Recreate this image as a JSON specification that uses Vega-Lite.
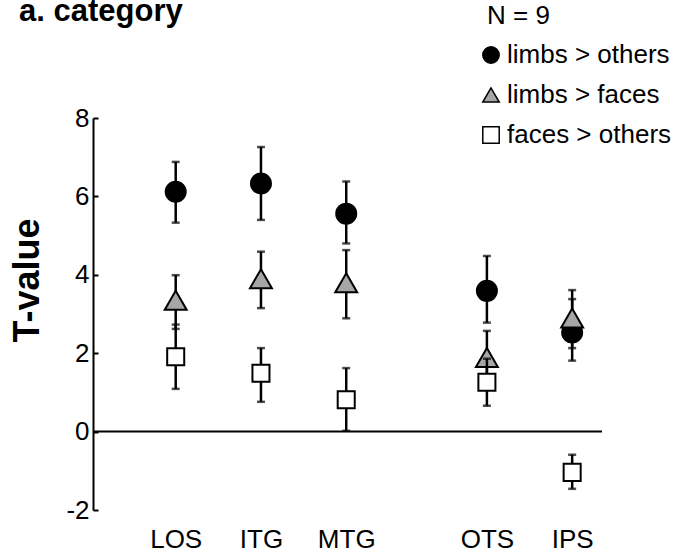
{
  "$schema": "https://vega.github.io/schema/vega-lite/v6.json",
  "width": 509,
  "height": 392,
  "autosize": "none",
  "padding": {"left": 93, "top": 118, "right": 79, "bottom": 49},
  "background": "white",
  "config": {
    "view": {"stroke": null},
    "font": "Liberation Sans",
    "axisY": {
      "domain": true, "domainColor": "black", "domainWidth": 2,
      "ticks": true, "tickColor": "black", "tickWidth": 2, "tickSize": -5,
      "grid": false, "labelFontSize": 26, "labelColor": "black", "labelFont": "Liberation Sans",
      "labelPadding": 9,
      "titleFontSize": 36, "titleFontWeight": "bold", "titleColor": "black", "titleFont": "Liberation Sans",
      "titleX": -66, "titleY": 162, "titleAlign": "center", "titleBaseline": "middle", "titleAngle": 270
    },
    "axisX": {
      "domain": false, "ticks": false, "grid": false,
      "labelFontSize": 26, "labelColor": "black", "labelFont": "Liberation Sans",
      "labelPadding": 16, "labelFlush": false, "labelOverlap": false
    }
  },
  "title": {
    "text": "a. category", "anchor": "start", "frame": "group", "orient": "top",
    "fontSize": 31, "fontWeight": "bold", "color": "black", "font": "Liberation Sans",
    "baseline": "alphabetic", "offset": -49, "dx": -74
  },
  "data": {"values": [
    {"region": "LOS", "x": 1, "series": "limbs > others", "t": 6.12, "lo": 5.33, "hi": 6.88},
    {"region": "ITG", "x": 2, "series": "limbs > others", "t": 6.33, "lo": 5.40, "hi": 7.26},
    {"region": "MTG", "x": 3, "series": "limbs > others", "t": 5.56, "lo": 4.80, "hi": 6.38},
    {"region": "OTS", "x": 4.65, "series": "limbs > others", "t": 3.59, "lo": 2.78, "hi": 4.48},
    {"region": "IPS", "x": 5.65, "series": "limbs > others", "t": 2.53, "lo": 1.81, "hi": 3.38},
    {"region": "LOS", "x": 1, "series": "limbs > faces", "t": 3.35, "lo": 2.62, "hi": 3.99},
    {"region": "ITG", "x": 2, "series": "limbs > faces", "t": 3.90, "lo": 3.15, "hi": 4.59},
    {"region": "MTG", "x": 3, "series": "limbs > faces", "t": 3.80, "lo": 2.89, "hi": 4.63},
    {"region": "OTS", "x": 4.65, "series": "limbs > faces", "t": 1.89, "lo": 1.21, "hi": 2.57},
    {"region": "IPS", "x": 5.65, "series": "limbs > faces", "t": 2.90, "lo": 2.13, "hi": 3.61},
    {"region": "LOS", "x": 1, "series": "faces > others", "t": 1.91, "lo": 1.09, "hi": 2.73},
    {"region": "ITG", "x": 2, "series": "faces > others", "t": 1.49, "lo": 0.76, "hi": 2.13},
    {"region": "MTG", "x": 3, "series": "faces > others", "t": 0.81, "lo": 0.02, "hi": 1.62},
    {"region": "OTS", "x": 4.65, "series": "faces > others", "t": 1.26, "lo": 0.66, "hi": 1.86},
    {"region": "IPS", "x": 5.65, "series": "faces > others", "t": -1.04, "lo": -1.46, "hi": -0.59}
  ]},
  "layer": [
    {
      "data": {"values": [{"zero": 0}]},
      "mark": {"type": "rule", "color": "black", "strokeWidth": 2},
      "encoding": {
        "y": {"field": "zero", "type": "quantitative", "title": "T-value",
              "scale": {"domain": [-2, 8], "nice": false, "zero": false},
              "axis": {"values": [-2, 0, 2, 4, 6, 8], "labelExpr": "'' + datum.value"}}
      }
    },
    {
      "transform": [{"filter": "datum.series == 'limbs > others'"}],
      "layer": [
        {
          "mark": {"type": "rule", "color": "black", "strokeWidth": 2.5},
          "encoding": {
            "x": {"field": "x", "type": "quantitative", "title": null,
                  "scale": {"domain": [0.03, 6.0], "nice": false, "zero": false},
                  "axis": {"values": [1, 2, 3, 4.65, 5.65],
                           "labelExpr": "datum.value == 1 ? 'LOS' : datum.value == 2 ? 'ITG' : datum.value == 3 ? 'MTG' : datum.value < 5 ? 'OTS' : 'IPS'"}},
            "y": {"field": "lo", "type": "quantitative", "title": "T-value"},
            "y2": {"field": "hi"}
          }
        },
        {
          "transform": [{"fold": ["lo", "hi"], "as": ["end", "v"]}],
          "mark": {"type": "tick", "orient": "horizontal", "size": 8, "thickness": 2.5, "color": "black"},
          "encoding": {
            "x": {"field": "x", "type": "quantitative", "title": null},
            "y": {"field": "v", "type": "quantitative", "title": "T-value"}
          }
        },
        {
          "mark": {"type": "point", "filled": true, "stroke": "black", "strokeWidth": 2, "opacity": 1, "size": 400},
          "encoding": {
            "x": {"field": "x", "type": "quantitative", "title": null},
            "y": {"field": "t", "type": "quantitative", "title": "T-value"},
            "shape": {"field": "series", "type": "nominal",
                      "scale": {"domain": ["limbs > others", "limbs > faces", "faces > others"], "range": ["circle", "triangle-up", "square"]},
                      "legend": {"orient": "none", "legendX": 394, "legendY": -115, "title": "N = 9", "padding": 0,
                                 "titleFontSize": 26, "titleFontWeight": "normal", "titleColor": "black", "titleFont": "Liberation Sans", "titlePadding": 13,
                                 "labelFontSize": 26, "labelColor": "black", "labelFont": "Liberation Sans", "labelOffset": 3, "labelLimit": 0,
                                 "symbolSize": 270, "symbolOffset": -9, "rowPadding": 14,
                                 "encode": {"symbols": {"update": {"stroke": {"value": "black"}, "strokeWidth": {"value": 2}}}}}},
            "fill": {"field": "series", "type": "nominal",
                     "scale": {"domain": ["limbs > others", "limbs > faces", "faces > others"], "range": ["black", "#a6a6a6", "white"]},
                     "legend": {"orient": "none", "legendX": 394, "legendY": -115, "title": "N = 9", "padding": 0,
                                "titleFontSize": 26, "titleFontWeight": "normal", "titleColor": "black", "titleFont": "Liberation Sans", "titlePadding": 13,
                                "labelFontSize": 26, "labelColor": "black", "labelFont": "Liberation Sans", "labelOffset": 3, "labelLimit": 0,
                                "symbolSize": 270, "symbolOffset": -9, "rowPadding": 14,
                                "encode": {"symbols": {"update": {"stroke": {"value": "black"}, "strokeWidth": {"value": 2}}}}}}
          }
        }
      ]
    },
    {
      "transform": [{"filter": "datum.series == 'limbs > faces'"}],
      "layer": [
        {
          "mark": {"type": "rule", "color": "black", "strokeWidth": 2.5},
          "encoding": {
            "x": {"field": "x", "type": "quantitative", "title": null},
            "y": {"field": "lo", "type": "quantitative", "title": "T-value"},
            "y2": {"field": "hi"}
          }
        },
        {
          "transform": [{"fold": ["lo", "hi"], "as": ["end", "v"]}],
          "mark": {"type": "tick", "orient": "horizontal", "size": 8, "thickness": 2.5, "color": "black"},
          "encoding": {
            "x": {"field": "x", "type": "quantitative", "title": null},
            "y": {"field": "v", "type": "quantitative", "title": "T-value"}
          }
        },
        {
          "mark": {"type": "point", "filled": true, "stroke": "black", "strokeWidth": 2, "opacity": 1, "size": 480},
          "encoding": {
            "x": {"field": "x", "type": "quantitative", "title": null},
            "y": {"field": "t", "type": "quantitative", "title": "T-value"},
            "shape": {"field": "series", "type": "nominal"},
            "fill": {"field": "series", "type": "nominal"}
          }
        }
      ]
    },
    {
      "transform": [{"filter": "datum.series == 'faces > others'"}],
      "layer": [
        {
          "mark": {"type": "rule", "color": "black", "strokeWidth": 2.5},
          "encoding": {
            "x": {"field": "x", "type": "quantitative", "title": null},
            "y": {"field": "lo", "type": "quantitative", "title": "T-value"},
            "y2": {"field": "hi"}
          }
        },
        {
          "transform": [{"fold": ["lo", "hi"], "as": ["end", "v"]}],
          "mark": {"type": "tick", "orient": "horizontal", "size": 8, "thickness": 2.5, "color": "black"},
          "encoding": {
            "x": {"field": "x", "type": "quantitative", "title": null},
            "y": {"field": "v", "type": "quantitative", "title": "T-value"}
          }
        },
        {
          "mark": {"type": "point", "filled": true, "stroke": "black", "strokeWidth": 2, "opacity": 1, "size": 290},
          "encoding": {
            "x": {"field": "x", "type": "quantitative", "title": null},
            "y": {"field": "t", "type": "quantitative", "title": "T-value"},
            "shape": {"field": "series", "type": "nominal"},
            "fill": {"field": "series", "type": "nominal"}
          }
        }
      ]
    }
  ]
}
